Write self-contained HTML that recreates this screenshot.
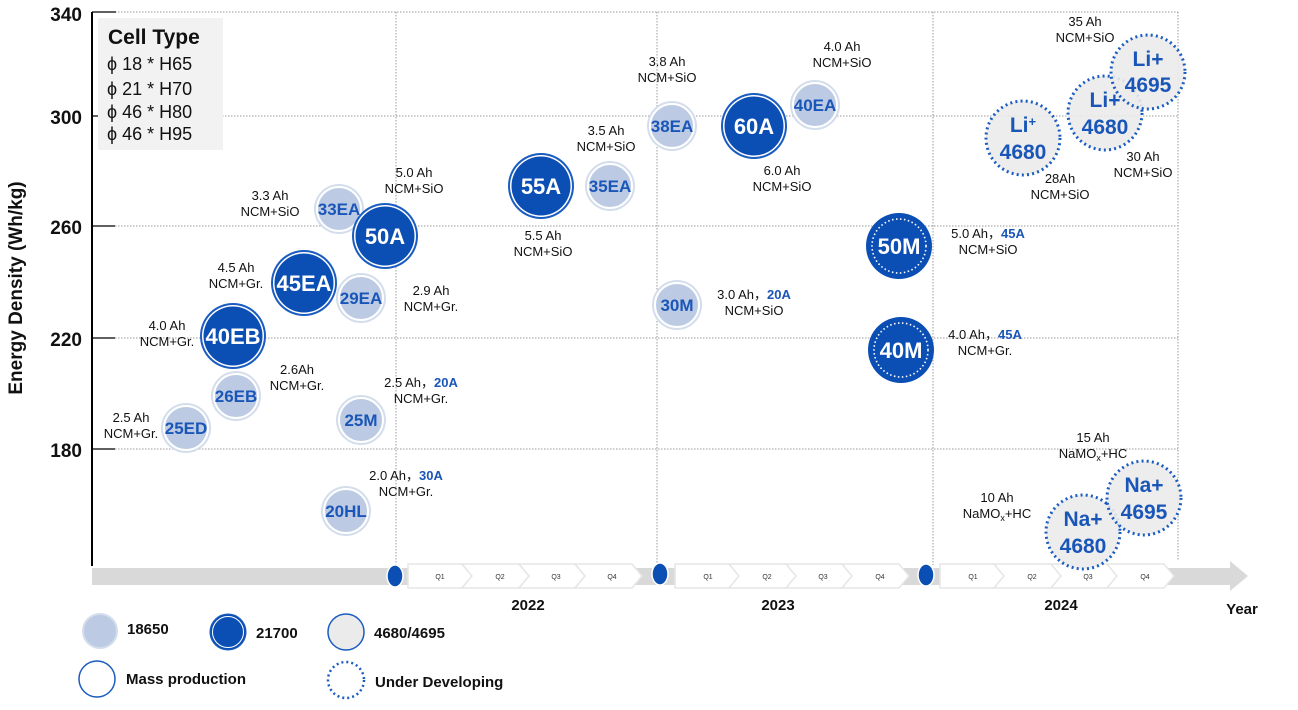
<!DOCTYPE html>
<html><head><meta charset="utf-8"><style>
body{margin:0;background:#fff}
svg{display:block;font-family:"Liberation Sans","DejaVu Sans",sans-serif}
.a{font-size:13px;fill:#111;text-anchor:middle}
.lt{font-size:17px;font-weight:bold;fill:#1a56b8;text-anchor:middle}
.dt{font-size:22px;font-weight:bold;fill:#fff;text-anchor:middle}
.gt{font-size:21px;font-weight:bold;fill:#1a56b8;text-anchor:middle}
.b{fill:#1a56b8;font-weight:bold}
.q{font-size:7px;fill:#333;text-anchor:middle}
.yl{font-size:19px;font-weight:bold;fill:#111;text-anchor:end}
</style></head><body>
<svg width="1298" height="710" viewBox="0 0 1298 710" xmlns="http://www.w3.org/2000/svg">
<defs>
<g id="L"><circle r="25" fill="#d3ddec"/><circle r="22" fill="#bccbe3" stroke="#fff" stroke-width="2"/></g>
<g id="D"><circle r="33" fill="#1a5cc0"/><circle r="31" fill="#fff"/><circle r="29.5" fill="#0b4fb5"/></g>
<g id="M"><circle r="33" fill="#0b4fb5"/><circle r="27" fill="none" stroke="#fff" stroke-width="1.6" stroke-dasharray="1.5 2.5"/></g>
<g id="G"><circle r="37" fill="#ebebeb" fill-opacity="0.9" stroke="#1a5cc0" stroke-width="3" stroke-dasharray="2 3.2"/></g>
</defs>
<g stroke="#999" stroke-width="1" stroke-dasharray="1.5 1.5">
<line x1="115" y1="12" x2="1178" y2="12"/>
<line x1="222" y1="116" x2="1178" y2="116"/>
<line x1="115" y1="226" x2="1178" y2="226"/>
<line x1="115" y1="338" x2="1178" y2="338"/>
<line x1="115" y1="449" x2="1178" y2="449"/>
<line x1="396" y1="12" x2="396" y2="565"/>
<line x1="657" y1="12" x2="657" y2="565"/>
<line x1="933" y1="12" x2="933" y2="565"/>
<line x1="1178" y1="12" x2="1178" y2="560"/>
</g>
<line x1="92" y1="12" x2="92" y2="566" stroke="#000" stroke-width="2"/>
<g stroke="#000" stroke-width="1.2">
<line x1="92" y1="12" x2="116" y2="12"/><line x1="92" y1="116" x2="116" y2="116"/>
<line x1="92" y1="226" x2="115" y2="226"/><line x1="92" y1="338" x2="115" y2="338"/>
<line x1="92" y1="449" x2="115" y2="449"/></g>
<text class="yl" x="82" y="21">340</text><text class="yl" x="82" y="124">300</text>
<text class="yl" x="82" y="234">260</text><text class="yl" x="82" y="346">220</text>
<text class="yl" x="82" y="457">180</text>
<text transform="translate(22,288) rotate(-90)" font-size="19" font-weight="bold" text-anchor="middle" fill="#111">Energy Density (Wh/kg)</text>
<rect x="98" y="18" width="125" height="132" fill="#f2f2f2"/>
<text x="108" y="44" font-size="21" font-weight="bold" fill="#111">Cell Type</text>
<g font-size="18" fill="#111" xml:space="preserve"><text x="107" y="70">ϕ 18 * H65</text><text x="107" y="95">ϕ 21  * H70</text>
<text x="107" y="118">ϕ 46  * H80</text><text x="107" y="140">ϕ 46  * H95</text></g>
<polygon points="92,568 1230,568 1230,561 1248,576 1230,591 1230,585 92,585" fill="#d9d9d9"/>
<g fill="#fff" stroke="#e6e6e6" stroke-width="1.5">
<polygon points="408,564 462,564 472,576 462,588 408,588"/><polygon points="462,564 519,564 529,576 519,588 462,588 472,576"/>
<polygon points="519,564 575,564 585,576 575,588 519,588 529,576"/><polygon points="575,564 632,564 642,576 632,588 575,588 585,576"/>
<polygon points="675,564 729,564 739,576 729,588 675,588"/><polygon points="729,564 786,564 796,576 786,588 729,588 739,576"/>
<polygon points="786,564 842,564 852,576 842,588 786,588 796,576"/><polygon points="842,564 899,564 909,576 899,588 842,588 852,576"/>
<polygon points="940,564 994,564 1004,576 994,588 940,588"/><polygon points="994,564 1051,564 1061,576 1051,588 994,588 1004,576"/>
<polygon points="1051,564 1107,564 1117,576 1107,588 1051,588 1061,576"/><polygon points="1107,564 1164,564 1174,576 1164,588 1107,588 1117,576"/>
</g>
<g class="q"><text x="440" y="579">Q1</text><text x="500" y="579">Q2</text><text x="556" y="579">Q3</text><text x="612" y="579">Q4</text>
<text x="708" y="579">Q1</text><text x="767" y="579">Q2</text><text x="823" y="579">Q3</text><text x="880" y="579">Q4</text>
<text x="973" y="579">Q1</text><text x="1032" y="579">Q2</text><text x="1088" y="579">Q3</text><text x="1145" y="579">Q4</text></g>
<g fill="#0b4fb5" stroke="#fff" stroke-width="1.5"><ellipse cx="395" cy="576" rx="8" ry="11"/><ellipse cx="660" cy="574" rx="8" ry="11"/><ellipse cx="926" cy="575" rx="8" ry="11"/></g>
<g font-size="15" font-weight="bold" fill="#111" text-anchor="middle"><text x="528" y="610">2022</text><text x="778" y="610">2023</text><text x="1061" y="610">2024</text><text x="1242" y="614">Year</text></g>
<use href="#L" x="186" y="428"/><text class="lt" x="186" y="434">25ED</text>
<use href="#L" x="236" y="396"/><text class="lt" x="236" y="402">26EB</text>
<use href="#D" x="233" y="336"/><text class="dt" x="233" y="344">40EB</text>
<use href="#D" x="304" y="283"/><text class="dt" x="304" y="291">45EA</text>
<use href="#L" x="361" y="298"/><text class="lt" x="361" y="304">29EA</text>
<use href="#L" x="339" y="209"/><text class="lt" x="339" y="215">33EA</text>
<use href="#D" x="385" y="236"/><text class="dt" x="385" y="244">50A</text>
<use href="#L" x="361" y="420"/><text class="lt" x="361" y="426">25M</text>
<use href="#L" x="346" y="511"/><text class="lt" x="346" y="517">20HL</text>
<use href="#D" x="541" y="186"/><text class="dt" x="541" y="194">55A</text>
<use href="#L" x="610" y="186"/><text class="lt" x="610" y="192">35EA</text>
<use href="#L" x="672" y="126"/><text class="lt" x="672" y="132">38EA</text>
<use href="#L" x="677" y="305"/><text class="lt" x="677" y="311">30M</text>
<use href="#D" x="754" y="126"/><text class="dt" x="754" y="134">60A</text>
<use href="#L" x="815" y="105"/><text class="lt" x="815" y="111">40EA</text>
<use href="#M" x="899" y="246"/><text class="dt" x="899" y="254">50M</text>
<use href="#M" x="901" y="350"/><text class="dt" x="901" y="358">40M</text>
<use href="#G" x="1023" y="138"/><text class="gt" x="1023" y="132">Li<tspan font-size="13" dy="-6">+</tspan></text><text class="gt" x="1023" y="159">4680</text>
<use href="#G" x="1105" y="113"/><text class="gt" x="1105" y="107">Li+</text><text class="gt" x="1105" y="134">4680</text>
<use href="#G" x="1148" y="72"/><text class="gt" x="1148" y="66">Li+</text><text class="gt" x="1148" y="92">4695</text>
<use href="#G" x="1083" y="532"/><text class="gt" x="1083" y="526">Na+</text><text class="gt" x="1083" y="553">4680</text>
<use href="#G" x="1144" y="498"/><text class="gt" x="1144" y="492">Na+</text><text class="gt" x="1144" y="519">4695</text>
<g class="a">
<text x="131" y="422">2.5 Ah</text><text x="131" y="438">NCM+Gr.</text>
<text x="167" y="330">4.0 Ah</text><text x="167" y="346">NCM+Gr.</text>
<text x="236" y="272">4.5 Ah</text><text x="236" y="288">NCM+Gr.</text>
<text x="270" y="200">3.3 Ah</text><text x="270" y="216">NCM+SiO</text>
<text x="414" y="177">5.0 Ah</text><text x="414" y="193">NCM+SiO</text>
<text x="431" y="295">2.9 Ah</text><text x="431" y="311">NCM+Gr.</text>
<text x="297" y="374">2.6Ah</text><text x="297" y="390">NCM+Gr.</text>
<text x="421" y="387">2.5 Ah，<tspan class="b">20A</tspan></text><text x="421" y="403">NCM+Gr.</text>
<text x="406" y="480">2.0 Ah，<tspan class="b">30A</tspan></text><text x="406" y="496">NCM+Gr.</text>
<text x="543" y="240">5.5 Ah</text><text x="543" y="256">NCM+SiO</text>
<text x="606" y="135">3.5 Ah</text><text x="606" y="151">NCM+SiO</text>
<text x="667" y="66">3.8 Ah</text><text x="667" y="82">NCM+SiO</text>
<text x="754" y="299">3.0 Ah，<tspan class="b">20A</tspan></text><text x="754" y="315">NCM+SiO</text>
<text x="782" y="175">6.0 Ah</text><text x="782" y="191">NCM+SiO</text>
<text x="842" y="51">4.0 Ah</text><text x="842" y="67">NCM+SiO</text>
<text x="988" y="238">5.0 Ah，<tspan class="b">45A</tspan></text><text x="988" y="254">NCM+SiO</text>
<text x="985" y="339">4.0 Ah，<tspan class="b">45A</tspan></text><text x="985" y="355">NCM+Gr.</text>
<text x="1085" y="26">35 Ah</text><text x="1085" y="42">NCM+SiO</text>
<text x="1060" y="183">28Ah</text><text x="1060" y="199">NCM+SiO</text>
<text x="1143" y="161">30 Ah</text><text x="1143" y="177">NCM+SiO</text>
<text x="1093" y="442">15 Ah</text><text x="1093" y="458">NaMO<tspan font-size="9" dy="3">x</tspan><tspan dy="-3">+HC</tspan></text>
<text x="997" y="502">10 Ah</text><text x="997" y="518">NaMO<tspan font-size="9" dy="3">x</tspan><tspan dy="-3">+HC</tspan></text>
</g>
<circle cx="100" cy="631" r="17" fill="#bccbe3" stroke="#d3ddec" stroke-width="2"/>
<circle cx="228" cy="632" r="18" fill="#0b4fb5" stroke="#1a5cc0" stroke-width="1"/><circle cx="228" cy="632" r="15.5" fill="none" stroke="#fff" stroke-width="1"/>
<circle cx="346" cy="632" r="18" fill="#ebebeb" stroke="#1a5cc0" stroke-width="1.5"/>
<circle cx="97" cy="679" r="18" fill="#fff" stroke="#1a5cc0" stroke-width="1.5"/>
<circle cx="346" cy="680" r="18" fill="#fff" stroke="#1a5cc0" stroke-width="2.5" stroke-dasharray="2 3"/>
<g font-size="15" font-weight="bold" fill="#111"><text x="127" y="634">18650</text><text x="256" y="638">21700</text>
<text x="374" y="638">4680/4695</text><text x="126" y="684">Mass production</text><text x="375" y="687">Under Developing</text></g>
</svg>
</body></html>
